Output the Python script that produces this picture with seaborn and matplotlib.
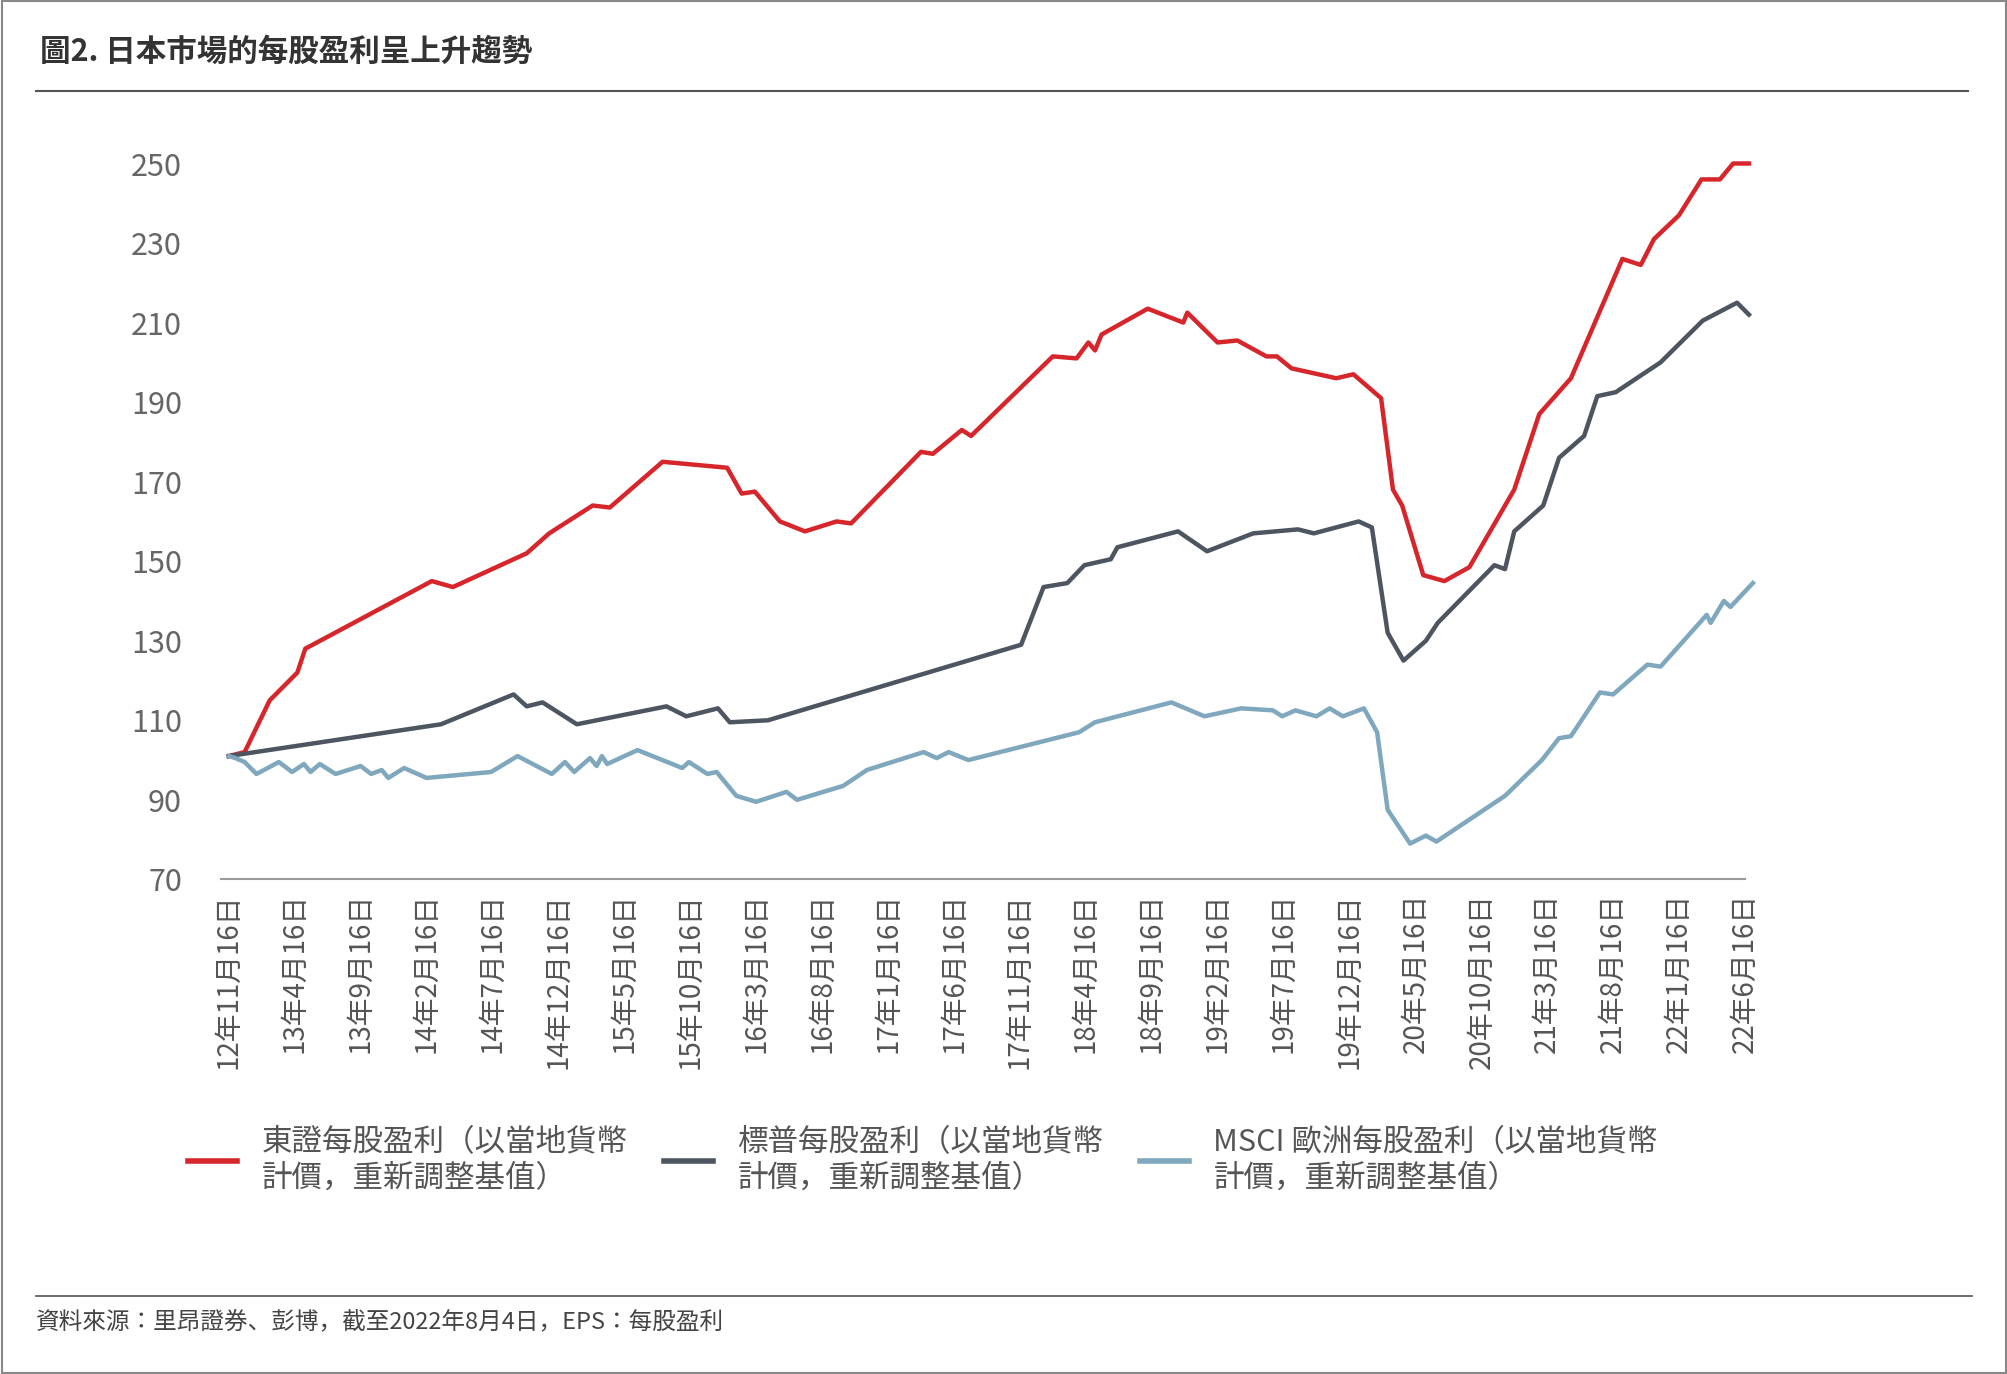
import numpy as np
import pandas as pd
import matplotlib
matplotlib.use("Agg")
import matplotlib.pyplot as plt
from matplotlib import font_manager
import seaborn as sns

# pick whatever CJK family matplotlib actually registered
cjk = sorted({f.name for f in font_manager.fontManager.ttflist if "CJK" in f.name})
pref = [n for n in cjk if "TC" in n] + [n for n in cjk if "JP" in n] + cjk
plt.rcParams["font.family"] = (pref[:1] if pref else []) + ["DejaVu Sans"]

# x = months since 2012-11-16
tick_labels = ["12年11月16日", "13年4月16日", "13年9月16日", "14年2月16日", "14年7月16日",
               "14年12月16日", "15年5月16日", "15年10月16日", "16年3月16日", "16年8月16日",
               "17年1月16日", "17年6月16日", "17年11月16日", "18年4月16日", "18年9月16日",
               "19年2月16日", "19年7月16日", "19年12月16日", "20年5月16日", "20年10月16日",
               "21年3月16日", "21年8月16日", "22年1月16日", "22年6月16日"]

topix_x = [0, 1.2, 3.1, 5.2, 5.8, 15.4, 17, 22.6, 24.3, 27.6, 28.9, 32.9, 37.8, 38.9, 39.9,
           41.8, 43.7, 46.1, 47.2, 52.5, 53.4, 55.6, 56.3, 62.5, 64.3, 65.2, 65.7, 66.2, 69.7,
           72.4, 72.7, 75, 76.5, 78.7, 79.5, 80.6, 84, 85.3, 87.4, 88.3, 89, 90.6, 92.2, 94.1,
           97.5, 99.4, 101.8, 105.7, 107.1, 108.1, 110, 111.7, 113.1, 114.1, 115.3]
topix_y = [101, 102, 115, 122, 128, 145, 143.5, 152, 157, 164, 163.5, 175, 173.5, 167, 167.5,
           160, 157.5, 160, 159.5, 177.5, 177, 183, 181.5, 201.5, 201, 205, 203, 207, 213.5,
           210, 212.5, 205, 205.5, 201.5, 201.5, 198.5, 196, 197, 191, 168, 164, 146.5, 145, 148.5,
           168, 187, 196, 226, 224.5, 231, 237, 246, 246, 250, 250]

sp_x = [0, 16.1, 21.6, 22.6, 23.8, 26.4, 33.2, 34.7, 37.1, 38, 40.9, 60.1, 61.8, 63.6, 64.9,
        66.9, 67.4, 72, 74.2, 77.7, 81.1, 82.3, 85.7, 86.7, 87.9, 89.1, 90.8, 91.7, 96, 96.8,
        97.5, 99.7, 100.9, 102.8, 103.8, 105.2, 108.6, 111.8, 114.4, 115.3]
sp_y = [101, 109, 116.5, 113.5, 114.5, 109, 113.5, 111, 113, 109.5, 110, 129, 143.5, 144.5, 149,
        150.5, 153.5, 157.5, 152.5, 157, 158, 157, 160, 158.5, 132, 125, 130, 134.5, 149, 148,
        157.5, 164, 176, 181.5, 191.5, 192.5, 200, 210.5, 215, 212]

msci_x = [0, 0.5, 1.2, 2.1, 3.8, 4.8, 5.7, 6.2, 6.9, 8.1, 10, 10.8, 11.6, 12.1, 13.3, 15, 19.9,
          21.9, 24.5, 25.5, 26.2, 27.4, 27.9, 28.3, 28.7, 31, 34.4, 34.9, 36.3, 37, 38.5, 40,
          42.3, 43.1, 46.6, 48.4, 52.7, 53.7, 54.6, 56.1, 64.5, 65.7, 71.5, 74, 76.8, 79.2, 79.9,
          80.9, 82.5, 83.5, 84.5, 86.1, 87.1, 87.9, 89.6, 90.8, 91.6, 96.8, 99.6, 100.9, 101.8,
          104, 105, 107.6, 108.6, 112.1, 112.4, 113.4, 113.9, 115.6]
msci_y = [101, 100.5, 99.5, 96.5, 99.5, 97, 99, 97, 99, 96.5, 98.5, 96.5, 97.5, 95.5, 98, 95.5, 97,
          101, 96.5, 99.5, 97, 100.5, 98.5, 101, 99, 102.5, 98, 99.5, 96.5, 97, 91, 89.5,
          92, 90, 93.5, 97.5, 102, 100.5, 102, 100, 107, 109.5, 114.5, 111, 113, 112.5, 111,
          112.5, 111, 113, 111, 113, 107, 87.5, 79, 81, 79.5, 91, 100, 105.5, 106,
          117, 116.5, 124, 123.5, 136.5, 134.5, 140, 138.5, 144.5]

series_names = ["東證每股盈利（以當地貨幣\n計價，重新調整基值）",
                "標普每股盈利（以當地貨幣\n計價，重新調整基值）",
                "MSCI 歐洲每股盈利（以當地貨幣\n計價，重新調整基值）"]
colors = ["#d7262b", "#4d5660", "#7fa7bd"]

df = pd.concat([
    pd.DataFrame({"x": topix_x, "y": topix_y, "series": series_names[0]}),
    pd.DataFrame({"x": sp_x, "y": sp_y, "series": series_names[1]}),
    pd.DataFrame({"x": msci_x, "y": msci_y, "series": series_names[2]}),
])

fig = plt.figure(figsize=(20.08, 13.74), dpi=100)
ax = fig.add_axes([0.11, 0.36, 0.759, 0.521])
sns.lineplot(data=df, x="x", y="y", hue="series", palette=colors, linewidth=3.2,
             sort=False, legend=False, ax=ax)
for ln in ax.lines:
    ln.set_clip_on(False)

ax.set_xlim(-0.6, 114)
ax.set_ylim(70, 250)
ax.set_yticks(range(70, 251, 20))
ax.set_xticks(np.arange(0, 116, 5))
ax.set_xticklabels(tick_labels, rotation=90, fontsize=20, color="#555555")
ax.tick_params(axis="y", labelsize=22, colors="#666666", length=0, pad=28)
ax.tick_params(axis="x", length=0, pad=10)
ax.set_xlabel("")
ax.set_ylabel("")
for s in ["top", "right", "left"]:
    ax.spines[s].set_visible(False)
ax.spines["bottom"].set_color("#999999")
ax.spines["bottom"].set_linewidth(1.5)

handles = [plt.Line2D([], [], color=c, linewidth=4) for c in colors]
fig.legend(handles, series_names, ncol=3, loc="upper left", bbox_to_anchor=(0.08, 0.2),
           frameon=False, fontsize=22, handlelength=1.6, columnspacing=1.2,
           labelcolor="#555555")

fig.text(0.02, 0.962, "圖2. 日本市場的每股盈利呈上升趨勢", fontsize=22, fontweight="bold",
         color="#333333", va="center")
fig.add_artist(plt.Line2D([0.018, 0.98], [0.934, 0.934], color="#555555", linewidth=1.5))
fig.add_artist(plt.Line2D([0.018, 0.982], [0.057, 0.057], color="#555555", linewidth=1.2))
fig.text(0.018, 0.038, "資料來源：里昂證券、彭博，截至2022年8月4日，EPS：每股盈利", fontsize=17,
         color="#444444", va="center")
fig.add_artist(plt.Rectangle((0.001, 0.001), 0.998, 0.998, fill=False, edgecolor="#888888",
                             linewidth=1.5, transform=fig.transFigure))

fig.savefig("out.png", dpi=100)
